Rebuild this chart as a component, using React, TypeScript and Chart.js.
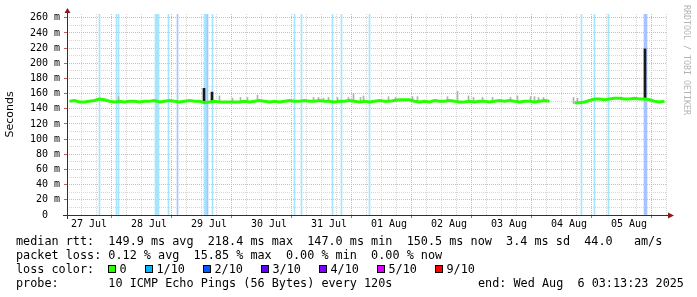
import React, { useEffect, useRef } from 'react';
import { Chart, registerables } from 'chart.js';

Chart.register(...registerables);

// ---- time axis: hours since 27 Jul 03:13:23 (10-day window ending 6 Aug 03:13:23)
const X_MAX_HOURS = 240;
const FIRST_TICK_HOURS = 2.777; // 27 Jul 06:00
const TICK_STEP_HOURS = 6;
const MEDIAN_BIN_HOURS = 2;
const Y_MAX = 265;
const Y_STEP = 10;
const DAY_LABELS = ['27 Jul', '28 Jul', '29 Jul', '30 Jul', '31 Jul', '01 Aug', '02 Aug', '03 Aug', '04 Aug', '05 Aug'];

// ---- median rtt (ms), one value per 2-hour bin
const MEDIAN_MS: (number | null)[] = [
  150, 151, 149, 149, 150, 151, 153, 152, 150, 149,
  150, 149, 150, 150, 149, 150, 150, 151, 149, 150,
  151, 150, 149, 150, 151, 150, 150, 148, 149, 150,
  149, 149, 149, 149, 149, 150, 149, 150, 151, 150,
  149, 150, 149, 150, 151, 150, 150, 151, 150, 150,
  151, 150, 150, 149, 150, 150, 151, 150, 149, 150,
  149, 150, 151, 150, 150, 151, 152, 152, 152, 150,
  149, 150, 149, 151, 150, 150, 151, 150, 149, 149,
  150, 149, 150, 150, 149, 150, 151, 150, 151, 150,
  149, 150, 150, 149, 150, 151, 150, null, null, null,
  null, 148, 148, 149, 151, 153, 153, 152, 153, 154,
  154, 153, 153, 154, 153, 153, 152, 150, 149, 150,
];

// ---- packet loss events (hours)
const LOSS_1_HOURS = [13.0, 19.8, 20.6, 35.4, 35.8, 36.2, 36.6, 40.6, 55.0, 55.4, 55.8, 58.2, 91.0, 93.8, 106.2, 109.8, 121.0, 205.8, 211.0, 216.6];
const LOSS_2_HOURS = [44.2, 56.2, 231.0, 231.4, 231.8];

// ---- smoke (ping spread) ms
const SMOKE_HOURS = [20.6, 61.0, 66.2, 69.4, 72.2, 76.2, 98.6, 100.6, 102.6, 104.6, 108.2, 112.6, 114.6, 117.4, 118.6, 128.6, 131.4, 138.2, 140.2, 152.2, 156.2, 160.6, 162.6, 166.2, 170.2, 177.4, 180.2, 185.4, 187.0, 188.6, 190.6, 202.6, 204.2];
const SMOKE_LOW = [149, 150, 150, 150, 150, 150, 150, 150, 150, 150, 150, 150, 150, 150, 150, 151, 151, 150, 150, 150, 150, 150, 150, 150, 150, 150, 150, 150, 150, 150, 150, 147, 147];
const SMOKE_HIGH = [156, 157, 154, 155, 155, 158, 155, 155, 154, 155, 155, 155, 160, 155, 157, 156, 155, 156, 156, 156, 163, 157, 155, 155, 155, 155, 157, 156, 156, 155, 155, 155, 154];
const SPIKE_HOURS = [54.8, 58.0, 231.2];
const SPIKE_LOW = [148, 149, 152];
const SPIKE_HIGH = [167, 162, 219];

// ---- legend
const LOSS_LEGEND_LABELS = ['0', '1/10', '2/10', '3/10', '4/10', '5/10', '9/10'];
const LOSS_LEGEND_COLORS = ['#26ff00', '#00b8ff', '#0059ff', '#5e00ff', '#7e00ff', '#dd00ff', '#ff0000'];
const ROW_RTT = 'median rtt:  149.9 ms avg  218.4 ms max  147.0 ms min  150.5 ms now  3.4 ms sd  44.0   am/s';
const ROW_LOSS = 'packet loss: 0.12 % avg  15.85 % max  0.00 % min  0.00 % now';
const ROW_COLOR = 'loss color:';
const ROW_PROBE = 'probe:       10 ICMP Echo Pings (56 Bytes) every 120s';
const END_TEXT = 'end: Wed Aug  6 03:13:23 2025';
const WATERMARK = 'RRDTOOL / TOBI OETIKER';

const MONO = '"DejaVu Sans Mono", monospace';
const RED_GRID = '#eaaeae';
const GRAY_GRID = '#d6d6d6';

const decor = {
  id: 'decor',
  afterDraw(chart: any) {
    const { ctx, chartArea: a } = chart;
    ctx.save();
    // axes
    ctx.strokeStyle = '#303030';
    ctx.lineWidth = 1;
    ctx.beginPath();
    ctx.moveTo(a.left + 0.5, a.bottom + 4);
    ctx.lineTo(a.left + 0.5, a.top - 2);
    ctx.moveTo(a.left - 4, a.bottom + 0.5);
    ctx.lineTo(a.right + 2, a.bottom + 0.5);
    ctx.stroke();
    ctx.fillStyle = '#8b1a1a';
    ctx.beginPath();
    ctx.moveTo(a.left + 0.5, a.top - 6);
    ctx.lineTo(a.left - 2.5, a.top - 1);
    ctx.lineTo(a.left + 3.5, a.top - 1);
    ctx.closePath();
    ctx.fill();
    ctx.beginPath();
    ctx.moveTo(a.right + 7, a.bottom + 0.5);
    ctx.lineTo(a.right + 1, a.bottom - 2.5);
    ctx.lineTo(a.right + 1, a.bottom + 3.5);
    ctx.closePath();
    ctx.fill();

    // legend rows
    ctx.fillStyle = '#000';
    ctx.font = `11.8px ${MONO}`;
    ctx.textBaseline = 'alphabetic';
    ctx.textAlign = 'left';
    const x0 = 16;
    ctx.fillText(ROW_RTT, x0, 244.5);
    ctx.fillText(ROW_LOSS, x0, 258.7);
    ctx.fillText(ROW_COLOR, x0, 272.9);
    ctx.fillText(ROW_PROBE, x0, 287.1);
    ctx.fillText(END_TEXT, 478, 287.1);
    let sx = 108;
    LOSS_LEGEND_LABELS.forEach((lab, i) => {
      ctx.fillStyle = '#000';
      ctx.fillRect(sx, 265, 8, 8);
      ctx.fillStyle = LOSS_LEGEND_COLORS[i];
      ctx.fillRect(sx + 1, 266, 6, 6);
      ctx.fillStyle = '#000';
      const tx = sx + 11.5;
      ctx.fillText(lab, tx, 272.9);
      sx = Math.round(tx + ctx.measureText(lab).width + 18);
    });

    // watermark
    ctx.save();
    ctx.translate(686, 5);
    ctx.rotate(Math.PI / 2);
    ctx.fillStyle = '#b4b4b4';
    ctx.font = `8.3px ${MONO}`;
    ctx.textBaseline = 'middle';
    ctx.fillText(WATERMARK, 0, 0);
    ctx.restore();
    ctx.restore();
  },
};

export default function App() {
  const ref = useRef<HTMLCanvasElement>(null);
  useEffect(() => {
    document.body.style.margin = '0';
    const canvas = ref.current!;
    const medianData = MEDIAN_MS.map((v, i) => ({ x: MEDIAN_BIN_HOURS * i + MEDIAN_BIN_HOURS / 2, y: v }));
    const chart = new Chart(canvas, {
      type: 'bar',
      data: {
        datasets: [
          {
            type: 'line',
            data: medianData as any,
            borderColor: '#26ff00',
            borderWidth: 3,
            pointRadius: 0,
            tension: 0,
            spanGaps: false,
            order: 1,
          } as any,
          {
            data: SPIKE_HOURS.map((h, i) => ({ x: h, y: [SPIKE_LOW[i], SPIKE_HIGH[i]] })) as any,
            backgroundColor: '#1a1a1a',
            barThickness: 2,
            grouped: false,
            order: 2,
          } as any,
          {
            data: SMOKE_HOURS.map((h, i) => ({ x: h, y: [SMOKE_LOW[i], SMOKE_HIGH[i]] })) as any,
            backgroundColor: '#b0b0b0',
            barThickness: 1,
            grouped: false,
            order: 3,
          } as any,
          {
            data: LOSS_2_HOURS.map((h) => ({ x: h, y: [0, Y_MAX] })) as any,
            backgroundColor: '#a8c4ff',
            barThickness: 1,
            grouped: false,
            order: 4,
          } as any,
          {
            data: LOSS_1_HOURS.map((h) => ({ x: h, y: [0, Y_MAX] })) as any,
            backgroundColor: '#a6e4ff',
            barThickness: 1,
            grouped: false,
            order: 5,
          } as any,
        ],
      },
      options: {
        responsive: false,
        animation: false,
        events: [],
        layout: { padding: { top: 14, right: 30, bottom: 0, left: 0 } },
        plugins: { legend: { display: false }, tooltip: { enabled: false } },
        scales: {
          x: {
            type: 'linear',
            min: 0,
            max: X_MAX_HOURS,
            offset: false,
            afterBuildTicks: (s: any) => {
              const t = [];
              for (let v = FIRST_TICK_HOURS; v <= X_MAX_HOURS; v += TICK_STEP_HOURS) t.push({ value: v });
              s.ticks = t;
            },
            afterFit: (s: any) => {
              s.height = 82;
            },
            grid: {
              color: (c: any) => (c.index % 4 === 3 ? RED_GRID : GRAY_GRID),
              lineWidth: 1,
              drawTicks: true,
              tickLength: 3,
              tickColor: (c: any) => (c.index % 4 === 3 ? '#c06060' : 'rgba(0,0,0,0)'),
            },
            border: { display: false, dash: [1, 1] },
            ticks: {
              autoSkip: false,
              maxRotation: 0,
              minRotation: 0,
              padding: 0,
              color: '#000',
              font: { family: MONO, size: 10 },
              callback: (_v: any, i: number) => (i % 4 === 1 ? DAY_LABELS[(i - 1) / 4] : ''),
            },
          },
          y: {
            min: 0,
            max: Y_MAX,
            afterFit: (s: any) => {
              s.width = 67;
            },
            grid: {
              color: (c: any) => (c.tick && c.tick.value % 20 === 0 ? RED_GRID : GRAY_GRID),
              lineWidth: 1,
              drawTicks: true,
              tickLength: 3,
              tickColor: (c: any) => (c.tick && c.tick.value % 20 === 0 ? '#c06060' : 'rgba(0,0,0,0)'),
            },
            border: { display: false, dash: [1, 1] },
            ticks: {
              stepSize: Y_STEP,
              includeBounds: false,
              autoSkip: false,
              padding: 4,
              color: '#000',
              font: { family: MONO, size: 10 },
              callback: (v: any) => (v % 20 === 0 ? (v === 0 ? '0  ' : `${v} m`) : ''),
            },
            title: {
              display: true,
              text: 'Seconds',
              color: '#000',
              font: { family: '"DejaVu Sans", sans-serif', size: 11 },
              padding: { top: 4, bottom: 0 },
            },
          },
        },
      } as any,
      plugins: [decor],
    });
    return () => chart.destroy();
  }, []);
  return (
    <div style={{ width: 697, height: 297 }}>
      <canvas ref={ref} width={697} height={297} style={{ display: 'block' }} />
    </div>
  );
}
